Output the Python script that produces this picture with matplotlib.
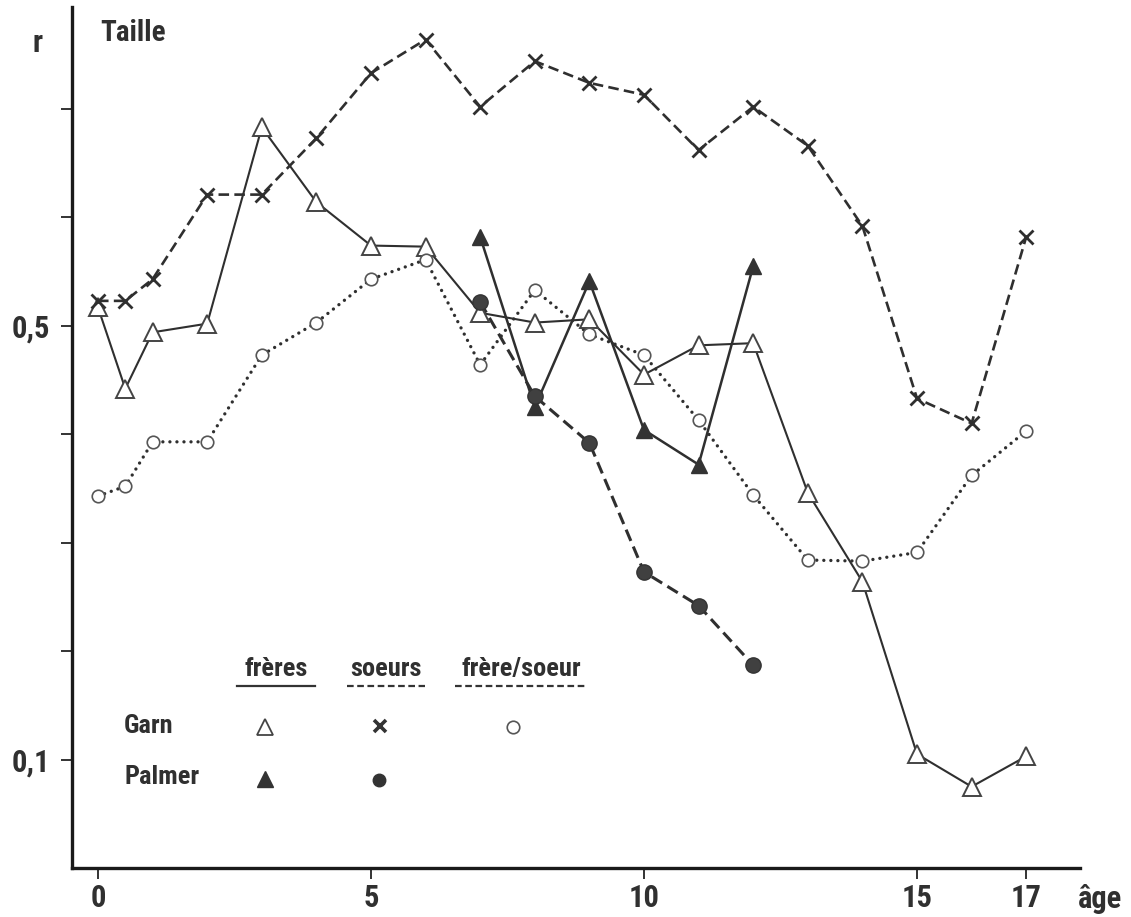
import matplotlib
matplotlib.use("Agg")
import matplotlib.pyplot as plt
from matplotlib import font_manager as fm
from matplotlib.lines import Line2D

# ---------------- data ----------------
ages_garn = [0, 0.5, 1, 2, 3, 4, 5, 6, 7, 8, 9, 10, 11, 12, 13, 14, 15, 16, 17]
garn_freres = [0.517, 0.442, 0.494, 0.502, 0.683, 0.614, 0.574, 0.573, 0.512, 0.503,
               0.506, 0.455, 0.482, 0.484, 0.346, 0.264, 0.105, 0.075, 0.103]
garn_soeurs = [0.523, 0.523, 0.543, 0.621, 0.621, 0.673, 0.733, 0.764, 0.702, 0.744,
               0.724, 0.713, 0.662, 0.702, 0.666, 0.592, 0.433, 0.410, 0.582]
garn_frere_soeur = [0.343, 0.352, 0.393, 0.393, 0.473, 0.503, 0.543, 0.561, 0.464, 0.533,
                    0.492, 0.473, 0.413, 0.344, 0.284, 0.283, 0.291, 0.362, 0.403]

ages_palmer = [7, 8, 9, 10, 11, 12]
palmer_freres = [0.582, 0.425, 0.541, 0.404, 0.372, 0.555]
palmer_soeurs = [0.522, 0.435, 0.392, 0.273, 0.242, 0.187]

xticks = [0, 5, 10, 15, 17]
xtick_labels = ["0", "5", "10", "15", "17"]
yticks = [0.1, 0.2, 0.3, 0.4, 0.5, 0.6, 0.7]
ytick_labels = ["0,1", "", "", "", "0,5", "", ""]

# ---------------- font ----------------
names = {f.name for f in fm.fontManager.ttflist}
FONT = None
for n in ["Roboto Condensed", "Liberation Sans Narrow", "Open Sans Condensed"]:
    if n in names:
        FONT = dict(family=n, weight="bold")
        break
if FONT is None:
    if any(f.name == "DejaVu Sans" and f.stretch in ("condensed", "semi-condensed")
           for f in fm.fontManager.ttflist):
        FONT = dict(family="DejaVu Sans", stretch="condensed", weight="bold")
    else:
        FONT = dict(family="DejaVu Sans", weight="bold")

INK = "#2f2f2f"
TXT = "#303030"

fig = plt.figure(figsize=(11.31, 9.17), dpi=100)
ax = fig.add_axes([72 / 1131, 49 / 917, 1008 / 1131, 861 / 917])
ax.set_xlim(-0.476, 17.985)
ax.set_ylim(0.0, 0.794)

# Garn frères
ax.plot(ages_garn, garn_freres, color=INK, lw=1.5, ls="-", zorder=2)
ax.plot(ages_garn, garn_freres, ls="none", marker="^", ms=13, mfc="white",
        mec="#444444", mew=1.4, zorder=4)
# Garn soeurs
ax.plot(ages_garn, garn_soeurs, color=INK, lw=1.9, ls=(0, (4, 2)), zorder=2)
ax.plot(ages_garn, garn_soeurs, ls="none", marker="x", ms=10, mec=INK, mew=2.0, zorder=4)
# Garn frère/soeur
ax.plot(ages_garn, garn_frere_soeur, color=INK, lw=2.4, ls=(0, (0.01, 2.1)),
        dash_capstyle="round", zorder=2)
ax.plot(ages_garn, garn_frere_soeur, ls="none", marker="o", ms=9, mfc="white",
        mec="#555555", mew=1.2, zorder=4)
# Palmer frères
ax.plot(ages_palmer, palmer_freres, color=INK, lw=1.8, ls="-", zorder=3)
ax.plot(ages_palmer, palmer_freres, ls="none", marker="^", ms=12, mfc="#333333",
        mec="#333333", zorder=5)
# Palmer soeurs
ax.plot(ages_palmer, palmer_soeurs, color=INK, lw=2.2, ls=(0, (4, 2)), zorder=3)
ax.plot(ages_palmer, palmer_soeurs, ls="none", marker="o", ms=11, mfc="#404040",
        mec="#333333", zorder=5)

# axes styling
for s in ["top", "right"]:
    ax.spines[s].set_visible(False)
for s in ["left", "bottom"]:
    ax.spines[s].set_linewidth(2.4)
    ax.spines[s].set_color("#1a1a1a")

ax.set_xticks(xticks)
ax.set_xticklabels(xtick_labels, fontsize=22, color=TXT, **FONT)
ax.set_yticks(yticks)
ax.set_yticklabels(ytick_labels, fontsize=22, color=TXT, **FONT)
ax.tick_params(axis="both", direction="out", length=8, width=1.4, color="#333333")
ax.tick_params(axis="x", pad=3)
ax.tick_params(axis="y", pad=8)

xl = ax.set_xlabel("âge", fontsize=22, color=TXT, **FONT)
xl.set_ha("left")
xl.set_va("center")
ax.xaxis.set_label_coords(0.998, -0.036)
yl = ax.set_ylabel("r", fontsize=22, color=TXT, rotation=0, **FONT)
yl.set_ha("center")
yl.set_va("center")
ax.yaxis.set_label_coords(-0.034, 0.958)

ax.text(0.028, 0.970, "Taille", transform=ax.transAxes, fontsize=21,
        color=TXT, ha="left", va="center", **FONT)

# ---------------- hand-made legend table ----------------
T = ax.transAxes
def fx(px):
    return (px - 72) / 1008
def fy(py):
    return (868 - py) / 861

headers = [("frères", 276, "-"), ("soeurs", 386, (0, (3, 1.6))), ("frère/soeur", 521, (0, (3, 1.6)))]
half = {"frères": 39, "soeurs": 39, "frère/soeur": 66}
for label, cx, ls in headers:
    ax.text(fx(cx), fy(669), label, transform=T, fontsize=19, color=TXT,
            ha="center", va="center", **FONT)
    h = half[label]
    ax.add_line(Line2D([fx(cx - h), fx(cx + h)], [fy(686), fy(686)], transform=T,
                       color="#333333", lw=1.6, ls=ls))

ax.text(fx(124), fy(726), "Garn", transform=T, fontsize=19, color=TXT,
        ha="left", va="center", **FONT)
ax.text(fx(124), fy(777), "Palmer", transform=T, fontsize=19, color=TXT,
        ha="left", va="center", **FONT)

ax.add_line(Line2D([fx(265)], [fy(727)], transform=T, ls="none", marker="^", ms=11,
                   mfc="white", mec="#444444", mew=1.3))
ax.add_line(Line2D([fx(380)], [fy(726)], transform=T, ls="none", marker="x", ms=8,
                   mec="#333333", mew=2.6))
ax.add_line(Line2D([fx(513)], [fy(727)], transform=T, ls="none", marker="o", ms=9,
                   mfc="white", mec="#555555", mew=1.2))
ax.add_line(Line2D([fx(265)], [fy(779)], transform=T, ls="none", marker="^", ms=11,
                   mfc="#333333", mec="#333333"))
ax.add_line(Line2D([fx(379)], [fy(780)], transform=T, ls="none", marker="o", ms=9,
                   mfc="#333333", mec="#333333"))

fig.savefig("out.png", dpi=100, facecolor="white")
